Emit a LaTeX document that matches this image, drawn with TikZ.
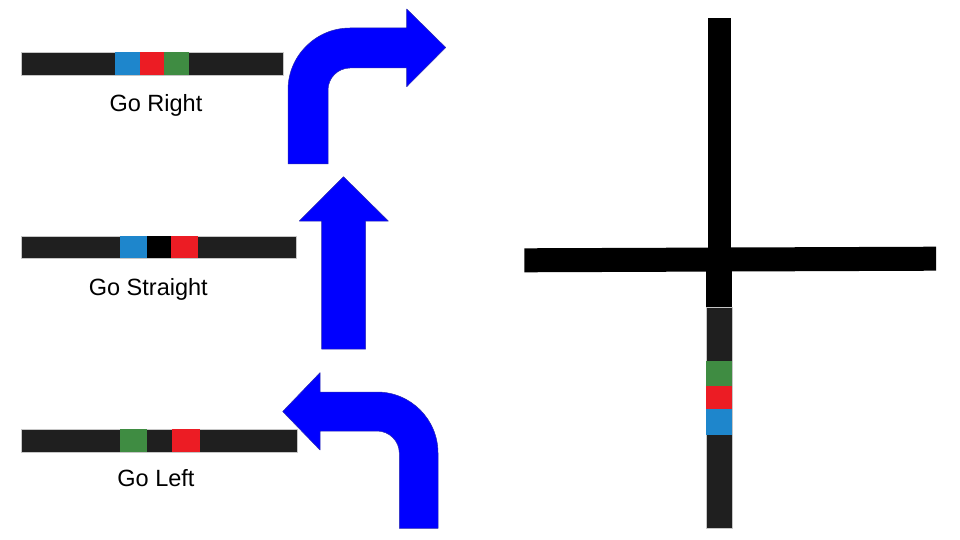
\documentclass[tikz,border=0pt]{standalone}
\usepackage{fontspec}
\setmainfont{Liberation Sans}
\definecolor{tapedark}{HTML}{1F1F1F}
\definecolor{tapeblue}{HTML}{1E86CC}
\definecolor{tapered}{HTML}{EC1C24}
\definecolor{tapegreen}{HTML}{3F8C42}
\definecolor{arrowblue}{HTML}{0000FF}
\definecolor{arrowedge}{HTML}{2A2AB0}
\begin{document}
\begin{tikzpicture}[x=1pt,y=-1pt,line join=round,font=\fontsize{23.5pt}{28pt}\selectfont,
		tape/.style={fill=tapedark,draw=gray!45,line width=0.4pt},
		patch/.style={fill=#1,draw=none},
		turn/.style={fill=arrowblue,draw=arrowedge,line width=0.5pt},
		caption/.style={anchor=base,inner sep=0pt}]
	
	\useasboundingbox (0,0) rectangle (960,540);
	
	% Dải cảm biến: rẽ phải
	\draw[tape] (21,52) rectangle (283,75);
	\fill[patch=tapeblue] (115,52) rectangle (140,75);
	\fill[patch=tapered] (140,52) rectangle (164,75);
	\fill[patch=tapegreen] (164,52) rectangle (189,75);
	\node[caption] (right) at (156,111.7) {Go Right};
	
	% Dải cảm biến: đi thẳng
	\draw[tape] (20.7,235.7) rectangle (296,257.7);
	\fill[patch=tapeblue] (120,235.7) rectangle (146.7,257.7);
	\fill[patch=black] (146.7,235.7) rectangle (171,257.7);
	\fill[patch=tapered] (171,235.7) rectangle (198.3,257.7);
	\node[caption] (straight) at (148.3,295) {Go Straight};
	
	% Dải cảm biến: rẽ trái
	\draw[tape] (21,429) rectangle (296.7,451.7);
	\fill[patch=tapegreen] (120,429) rectangle (146.7,451.7);
	\fill[patch=tapered] (172.3,429) rectangle (200,451.7);
	\node[caption] (left) at (156,486.7) {Go Left};
	
	% Mũi tên rẽ phải
	\draw[turn] (288,164) -- (288,90) .. controls (288,55.8) and (315.8,28) .. (350,28)
		-- (406.7,28) -- (406.7,9) -- (445.7,47.5) -- (406.7,86.7) -- (406.7,68) -- (350,68)
		.. controls (337.9,68) and (328,77.9) .. (328,90) -- (328,164) -- cycle;
	
	% Mũi tên đi thẳng
	\draw[turn] (321.7,349) -- (321.7,221) -- (299.3,221) -- (343.5,176.7)
		-- (388.3,221) -- (365.7,221) -- (365.7,349) -- cycle;
	
	% Mũi tên rẽ trái
	\draw[turn] (399.3,528.3) -- (399.3,453) .. controls (399.3,440.9) and (389.1,431) .. (377,431)
		-- (320,431) -- (320,450) -- (282.7,411.5) -- (320,372.7) -- (320,392) -- (377,392)
		.. controls (410.7,392) and (438,419.3) .. (438,453) -- (438,528.3) -- cycle;
	
	% Ngã tư
	\fill[black] (707.7,18.3) rectangle (731,260);
	\fill[black] (524.3,248.3) -- (936,246.7) -- (936,270.7) -- (524.3,272.3) -- cycle;
	\fill[black] (705.7,260) rectangle (731.7,307.3);
	
	% Dải cảm biến dọc
	\draw[tape] (705.7,307.3) rectangle (731.7,528.3);
	\fill[patch=tapegreen] (705.7,360.7) rectangle (731.7,386);
	\fill[patch=tapered] (705.7,386) rectangle (731.7,409.3);
	\fill[patch=tapeblue] (705.7,409.3) rectangle (731.7,435);
	
\end{tikzpicture}
\end{document}
